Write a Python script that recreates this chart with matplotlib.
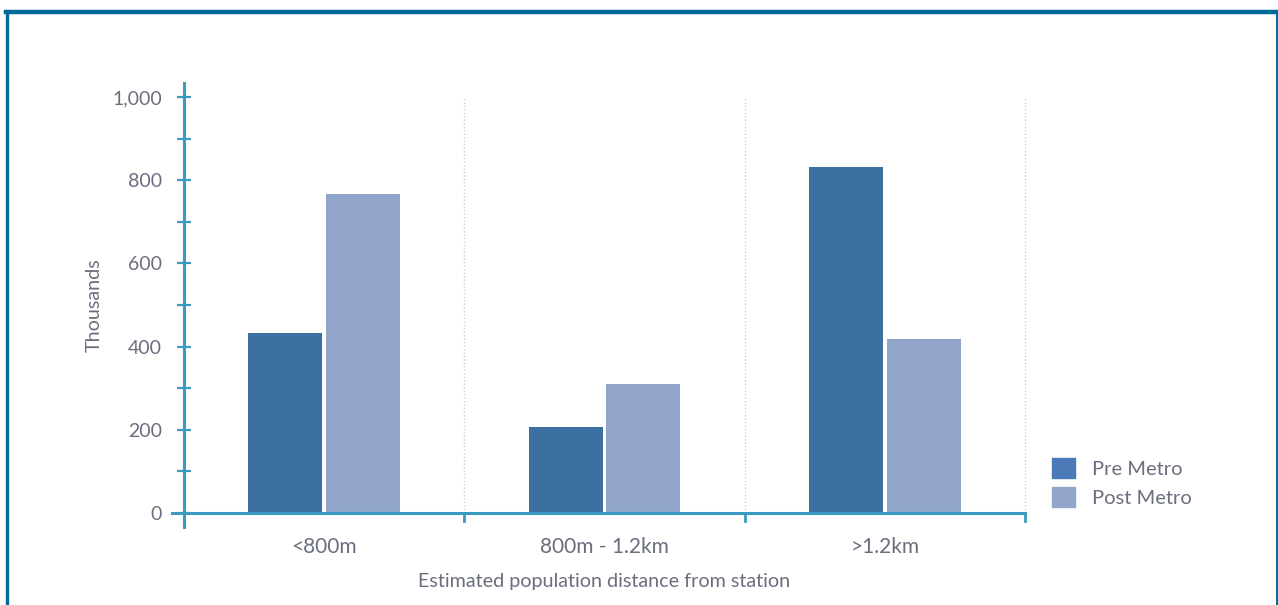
import matplotlib.pyplot as plt
from matplotlib.lines import Line2D
from matplotlib.patches import Patch
from matplotlib.ticker import MultipleLocator, FuncFormatter
import numpy as np

plt.rcParams['font.family'] = ['Lato', 'DejaVu Sans']

categories = ['<800m', '800m - 1.2km', '>1.2km']
pre_metro = [433, 207, 832]
post_metro = [767, 310, 418]

PRE_COL = '#3b70a0'
PRE_LEG = '#4a7ab8'
POST_COL = '#91a5cb'
AXIS_COL = '#3a9ac0'
TEXT_COL = '#6b6e7e'
FRAME_COL = '#006a9a'

fig = plt.figure(figsize=(12.78, 6.05), dpi=100)
ax = fig.add_axes([184 / 1278, 1 - 513 / 605, 841 / 1278, 416 / 605])

x = np.arange(len(categories))
w = 0.264
ax.bar(x - 0.139, pre_metro, w, color=PRE_COL, zorder=2)
ax.bar(x + 0.139, post_metro, w, color=POST_COL, zorder=2)

ax.set_xlim(-0.5, 2.5)
ax.set_ylim(0, 1000)

# dotted separators between categories
for b in x + 0.5:
    ax.axvline(b, color='#cfcfcf', lw=1, ls=(0, (1, 1.5)), zorder=1, clip_on=False)

for s in ax.spines.values():
    s.set_visible(False)

# axis lines drawn a little past the plot area
ax.add_line(Line2D([0, 0], [-14 / 416, 1 + 14 / 416], transform=ax.transAxes,
                   color=AXIS_COL, lw=2.2, clip_on=False, zorder=3))
ax.add_line(Line2D([-12 / 841, 1], [0, 0], transform=ax.transAxes,
                   color=AXIS_COL, lw=2.2, clip_on=False, zorder=3))
for b in x + 0.5:
    ax.add_line(Line2D([b, b], [0, -8 / 416], transform=ax.get_xaxis_transform(),
                       color=AXIS_COL, lw=2, clip_on=False, zorder=3))

ax.yaxis.set_major_locator(MultipleLocator(200))
ax.yaxis.set_minor_locator(MultipleLocator(100))
ax.yaxis.set_major_formatter(FuncFormatter(lambda v, p: f'{int(v):,}'))
ax.tick_params(axis='y', which='both', direction='inout', length=10, width=1.6,
               color=AXIS_COL, labelcolor=TEXT_COL, labelsize=14, pad=11)
ax.tick_params(axis='y', which='minor', labelleft=False)

ax.set_xticks(x)
ax.set_xticklabels(categories)
ax.tick_params(axis='x', length=0, labelcolor=TEXT_COL, labelsize=15, pad=17)

ax.set_xlabel('Estimated population distance from station', color=TEXT_COL,
              fontsize=14.2, labelpad=12)
ax.set_ylabel('Thousands', color=TEXT_COL, fontsize=14.2, labelpad=7)

handles = [Patch(color=PRE_LEG, label='Pre Metro'),
           Patch(color=POST_COL, label='Post Metro')]
fig.legend(handles=handles, loc='upper left', bbox_to_anchor=(1052 / 1278, 1 - 458 / 605),
           frameon=False, fontsize=14.5, labelcolor=TEXT_COL, handlelength=1.15,
           handleheight=1.15, handletextpad=0.85, labelspacing=0.45,
           borderpad=0, borderaxespad=0)

# outer frame
fig.add_artist(Line2D([6 / 1278, 1277 / 1278], [1 - 11.5 / 605] * 2, color=FRAME_COL, lw=3.2))
fig.add_artist(Line2D([6.5 / 1278] * 2, [0, 1 - 11.5 / 605], color=FRAME_COL, lw=2.4))
fig.add_artist(Line2D([1276.5 / 1278] * 2, [0, 1 - 11.5 / 605], color=FRAME_COL, lw=1.4))

fig.savefig('out.png', dpi=100)
